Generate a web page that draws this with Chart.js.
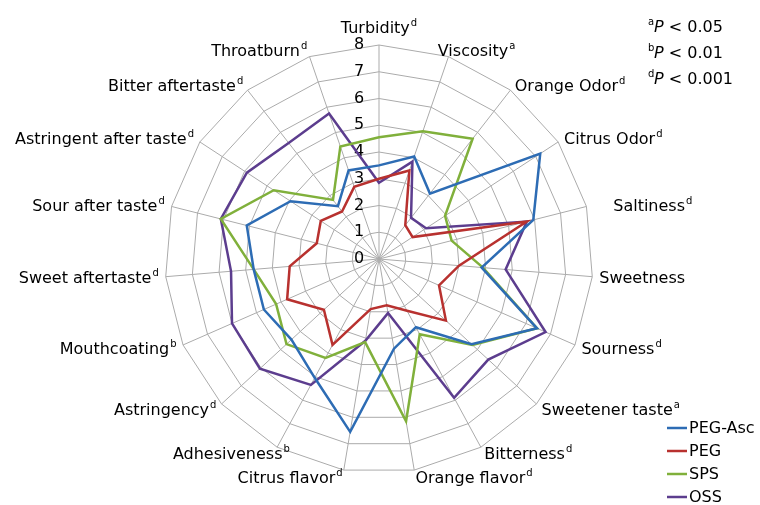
<!DOCTYPE html>
<html>
<head>
<meta charset="utf-8">
<script src="https://cdn.jsdelivr.net/npm/chart.js@4.4.1/dist/chart.umd.min.js"></script>
<style>
    html, body { margin: 0; padding: 0; background: #fff; }
    #wrap { width: 760px; height: 505px; }
</style>
</head>
<body>
<div id="wrap"><canvas id="radarChart" width="760" height="505"></canvas></div>
<script>
const CATEGORIES = ['Turbidity', 'Viscosity', 'Orange Odor', 'Citrus Odor', 'Saltiness', 'Sweetness',
    'Sourness', 'Sweetener taste', 'Bitterness', 'Orange flavor', 'Citrus flavor', 'Adhesiveness',
    'Astringency', 'Mouthcoating', 'Sweet aftertaste', 'Sour after taste', 'Astringent after taste',
    'Bitter aftertaste', 'Throatburn'];
const SIGNIFICANCE = ['d', 'a', 'd', 'd', 'd', '', 'd', 'a', 'd', 'd', 'd', 'b', 'd', 'b', 'd', 'd', 'd', 'd', 'd'];

const SERIES_NAMES = ['PEG-Asc', 'PEG', 'SPS', 'OSS'];
const PEG_ASC = [3.5, 4.05, 3.1, 7.2, 5.95, 3.85, 6.45, 4.7, 2.9, 3.4, 6.55, 5.05, 4.45, 4.7, 4.7, 5.1, 3.95, 2.5, 3.5];
const PEG = [3.0, 3.5, 1.6, 1.5, 5.7, 3.0, 2.45, 3.4, 2.2, 1.75, 1.9, 3.65, 2.8, 3.75, 3.35, 2.4, 2.6, 2.25, 2.85];
const SPS = [4.55, 5.05, 5.7, 2.95, 2.8, 3.9, 6.45, 4.75, 3.2, 6.15, 3.15, 4.2, 4.7, 4.2, 4.7, 6.1, 4.7, 2.8, 4.45];
const OSS = [2.85, 3.85, 1.95, 2.1, 5.7, 4.75, 6.8, 5.55, 5.9, 2.05, 3.1, 5.35, 6.05, 6.0, 5.55, 6.1, 5.9, 5.5, 5.75];

const P_NOTES = [['a', '< 0.05'], ['b', '< 0.01'], ['d', '< 0.001']];

const COLORS = ['#2d6cb4', '#b8312f', '#80b03b', '#5c3d8e'];
const FONT = '"DejaVu Sans", Verdana, sans-serif';

// small shifts where the labels sit off the usual spot
const LABEL_NUDGE = { 1: -13, 4: 20, 11: 16 };

function drawSupText(ctx, text, sup, x, baseline, align) {
    ctx.font = '16px ' + FONT;
    const w = ctx.measureText(text).width;
    ctx.font = '10px ' + FONT;
    const sw = sup ? ctx.measureText(sup).width + 1 : 0;
    let left = x;
    if (align == 'right') left = x - w - sw;
    if (align == 'center') left = x - (w + sw) / 2;
    ctx.textAlign = 'left';
    ctx.textBaseline = 'alphabetic';
    ctx.font = '16px ' + FONT;
    ctx.fillText(text, left, baseline);
    if (sup) {
        ctx.font = '10px ' + FONT;
        ctx.fillText(sup, left + w + 1, baseline - 7);
    }
}

const textPlugin = {
    id: 'radarTexts',
    beforeDatasetsDraw(chart) {
        const ctx = chart.ctx;
        const scale = chart.scales.r;
        ctx.save();
        ctx.fillStyle = '#000';

        // tick numbers, 0 included
        ctx.font = '16px ' + FONT;
        ctx.textAlign = 'center';
        ctx.textBaseline = 'middle';
        scale.ticks.forEach(t => {
            const d = scale.getDistanceFromCenterForValue(t.value);
            ctx.fillText(t.label, scale.xCenter - 20, scale.yCenter - d);
        });

        // category labels
        const n = CATEGORIES.length;
        CATEGORIES.forEach((name, i) => {
            const angle = i * 360 / n;
            const p = scale.getPointPosition(i, scale.drawingArea + 7);
            const dx = LABEL_NUDGE[i] || 0;
            if (angle == 0) {
                drawSupText(ctx, name, SIGNIFICANCE[i], p.x, scale.yCenter - scale.drawingArea - 12, 'center');
            } else if (angle < 180) {
                drawSupText(ctx, name, SIGNIFICANCE[i], p.x + dx, p.y + 6, 'left');
            } else {
                drawSupText(ctx, name, SIGNIFICANCE[i], p.x + dx, p.y + 6, 'right');
            }
        });
        ctx.restore();
    },
    afterDraw(chart) {
        const ctx = chart.ctx;
        ctx.save();
        ctx.fillStyle = '#000';

        // P value notes
        P_NOTES.forEach((note, i) => {
            const y = 32 + i * 26;
            ctx.textAlign = 'left';
            ctx.textBaseline = 'alphabetic';
            ctx.font = '10px ' + FONT;
            ctx.fillText(note[0], 648, y - 7);
            ctx.font = 'italic 16px ' + FONT;
            ctx.fillText('P', 654, y);
            const pw = ctx.measureText('P').width;
            ctx.font = '16px ' + FONT;
            ctx.fillText(' ' + note[1], 654 + pw, y);
        });

        // legend
        chart.data.datasets.forEach((ds, i) => {
            const y = 428 + i * 23;
            ctx.strokeStyle = ds.borderColor;
            ctx.lineWidth = 2.5;
            ctx.beginPath();
            ctx.moveTo(667, y);
            ctx.lineTo(687, y);
            ctx.stroke();
            ctx.font = '16px ' + FONT;
            ctx.textAlign = 'left';
            ctx.textBaseline = 'middle';
            ctx.fillText(ds.label, 689, y + 1);
        });
        ctx.restore();
    }
};

function makeDataset(i, values) {
    return {
        label: SERIES_NAMES[i],
        data: values,
        borderColor: COLORS[i],
        backgroundColor: COLORS[i],
        borderWidth: 2.5,
        pointRadius: 0,
        pointHoverRadius: 0,
        fill: false,
        tension: 0
    };
}

const config = {
    type: 'radar',
    data: {
        labels: CATEGORIES,
        datasets: [
            makeDataset(0, PEG_ASC),
            makeDataset(1, PEG),
            makeDataset(2, SPS),
            makeDataset(3, OSS)
        ]
    },
    options: {
        responsive: false,
        animation: false,
        devicePixelRatio: 1,
        layout: {
            padding: { left: 165, right: 167, top: 45, bottom: 32 }
        },
        plugins: {
            legend: { display: false },
            tooltip: { enabled: false }
        },
        scales: {
            r: {
                min: 0,
                max: 8,
                ticks: { stepSize: 1, display: false },
                grid: { color: '#ababab', lineWidth: 1 },
                angleLines: { color: '#ababab', lineWidth: 1 },
                pointLabels: { display: false }
            }
        }
    },
    plugins: [textPlugin]
};

var chart = new Chart('radarChart', config);
</script>
</body>
</html>
